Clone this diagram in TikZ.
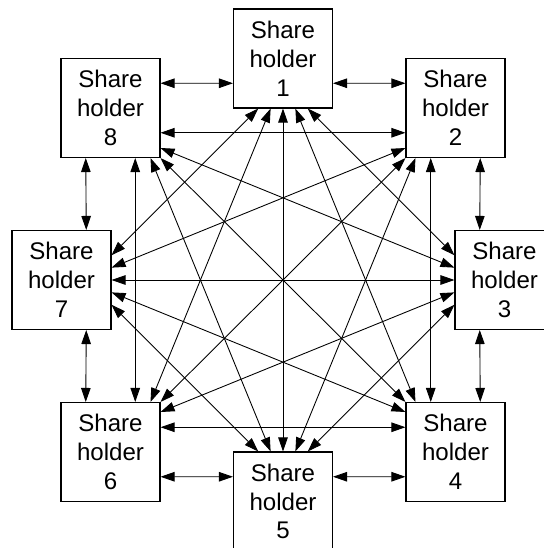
\documentclass[tikz,border=0pt]{standalone}
\usepackage{fontspec}
\setmainfont{Liberation Sans}
\usetikzlibrary{arrows.meta}
\tikzset{
holder/.style={draw,rectangle,minimum width=1.98cm,minimum height=1.98cm,inner sep=0pt,align=center,line width=0.6pt,font=\fontsize{13.7}{16.4}\selectfont},
link/.style={{Triangle[length=2.8mm,width=1.9mm]}-{Triangle[length=2.8mm,width=1.9mm]},line width=0.5pt}
}
\begin{document}
\begin{tikzpicture}
\useasboundingbox(-5.66,-5.36)rectangle(5.22,5.6);
\node[holder](h1)at(0,4.43){Share\\holder\\1};
\node[holder](h2)at(3.45,3.44){Share\\holder\\2};
\node[holder](h3)at(4.43,0){Share\\holder\\3};
\node[holder](h4)at(3.45,-3.44){Share\\holder\\4};
\node[holder](h5)at(0,-4.43){Share\\holder\\5};
\node[holder](h6)at(-3.45,-3.44){Share\\holder\\6};
\node[holder](h7)at(-4.43,0){Share\\holder\\7};
\node[holder](h8)at(-3.45,3.44){Share\\holder\\8};
\draw[link]([yshift=-4.95mm]h1.east)--([yshift=4.95mm]h2.west);
\draw[link]([yshift=4.95mm]h8.east)--([yshift=-4.95mm]h1.west);
\draw[link]([xshift=-4.95mm]h8.south)--([xshift=4.95mm]h7.north);
\draw[link]([xshift=4.95mm]h2.south)--([xshift=-4.95mm]h3.north);
\draw[link]([xshift=4.95mm]h7.south)--([xshift=-4.95mm]h6.north);
\draw[link]([xshift=-4.95mm]h3.south)--([xshift=4.95mm]h4.north);
\draw[link]([yshift=-4.95mm]h6.east)--([yshift=4.95mm]h5.west);
\draw[link]([yshift=4.95mm]h5.east)--([yshift=-4.95mm]h4.west);
\draw[link]([yshift=-4.95mm]h8.east)--([yshift=-4.95mm]h2.west);
\draw[link]([xshift=4.95mm]h8.south)--([xshift=4.95mm]h6.north);
\draw[link]([xshift=-4.95mm]h2.south)--([xshift=-4.95mm]h4.north);
\draw[link]([yshift=4.95mm]h6.east)--([yshift=4.95mm]h4.west);
\draw[link](h8.south east)--(h4.north west);
\draw[link](h2.south west)--(h6.north east);
\draw[link](h1.south)--(h5.north);
\draw[link](h7.east)--(h3.west);
\draw[link]([xshift=-4.95mm]h1.south)--([yshift=4.95mm]h7.east);
\draw[link]([xshift=4.95mm]h1.south)--([yshift=4.95mm]h3.west);
\draw[link]([xshift=-2.475mm]h1.south)--([xshift=8mm]h6.north);
\draw[link]([xshift=2.475mm]h1.south)--([xshift=-8mm]h4.north);
\draw[link]([xshift=-4.95mm]h5.north)--([yshift=-4.95mm]h7.east);
\draw[link]([xshift=4.95mm]h5.north)--([yshift=-4.95mm]h3.west);
\draw[link]([xshift=-2.475mm]h5.north)--([xshift=8mm]h8.south);
\draw[link]([xshift=2.475mm]h5.north)--([xshift=-8mm]h2.south);
\draw[link]([yshift=2.475mm]h7.east)--([yshift=-8mm]h2.west);
\draw[link]([yshift=-2.475mm]h7.east)--([yshift=8mm]h4.west);
\draw[link]([yshift=2.475mm]h3.west)--([yshift=-8mm]h8.east);
\draw[link]([yshift=-2.475mm]h3.west)--([yshift=8mm]h6.east);
\end{tikzpicture}
\end{document}
